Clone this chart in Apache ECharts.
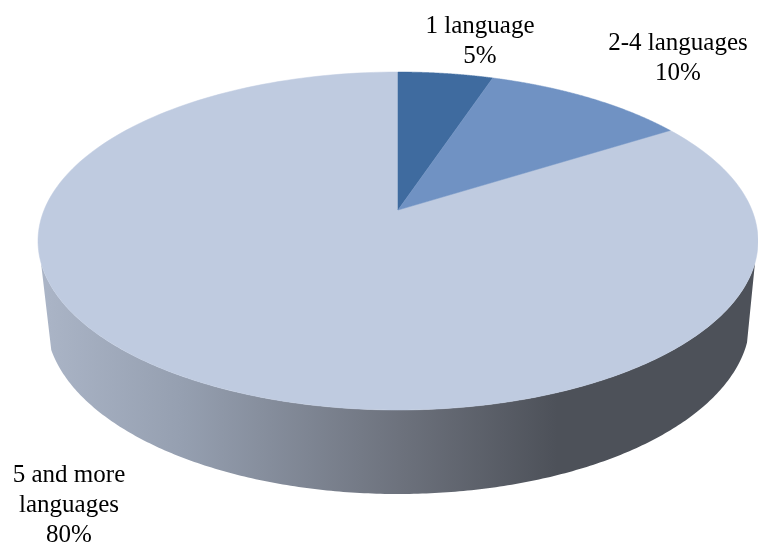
<!DOCTYPE html>
<html>
<head>
<meta charset="utf-8">
<style>html,body{margin:0;padding:0;background:#fff}#c{width:758px;height:543px}</style>
<script src="https://cdn.jsdelivr.net/npm/echarts@6/dist/echarts.min.js"></script>
</head>
<body>
<div id="c"></div>
<script>
const categories = ['1 language', '2-4 languages', '5 and more\nlanguages'];
const shares = [5, 10, 80];
const sliceColors = ['#3f6b9f', '#7092c3', '#bfcbe0'];

const top3d = {cx: 398, cy: 241, rx: 360, ry: 169, apexY: 210};
const base3d = {cx: 398, cy: 320, rx: 352, ry: 174};
const squeeze = 0.84;
const labelAt = [[480, 41], [678, 58], [69, 505]];
const STEPS = 240;

function skew(a) { return Math.atan2(squeeze * Math.sin(a), Math.cos(a)); }
function onEllipse(e, t) { return [e.cx + e.rx * Math.sin(t), e.cy - e.ry * Math.cos(t)]; }
function norm(t) { return t < 0 ? t + 2 * Math.PI : t; }

function sliceBounds(i) {
  let before = 0;
  for (let k = 0; k < i; k++) before += shares[k];
  const start = norm(skew(before / 100 * 2 * Math.PI));
  const end = i === shares.length - 1 ? 2 * Math.PI : norm(skew((before + shares[i]) / 100 * 2 * Math.PI));
  return [start, end];
}

function wallElement() {
  const pts = [];
  const topLimit = Math.PI / 2 + 0.13;
  const baseRight = Math.PI / 2 + 0.13;
  const baseLeft = Math.PI / 2 + 0.173;
  for (let j = 0; j <= STEPS; j++) {
    pts.push(onEllipse(top3d, topLimit + (2 * Math.PI - 2 * topLimit) * j / STEPS));
  }
  const baseFrom = 2 * Math.PI - baseLeft;
  for (let j = 0; j <= STEPS; j++) {
    pts.push(onEllipse(base3d, baseFrom + (baseRight - baseFrom) * j / STEPS));
  }
  return {
    type: 'polygon', z2: 0, silent: true,
    shape: {points: pts},
    style: {
      fill: new echarts.graphic.LinearGradient(40, 0, 758, 0, [
        {offset: 0, color: '#abb5c7'},
        {offset: 0.2, color: '#959fb0'},
        {offset: 0.5, color: '#6d727d'},
        {offset: 0.72, color: '#4d5159'},
        {offset: 1, color: '#4d5159'}
      ], true)
    }
  };
}

function renderItem(params, api) {
  const i = params.dataIndex;
  const [start, end] = sliceBounds(i);
  const pts = [[top3d.cx, top3d.apexY]];
  for (let j = 0; j <= STEPS; j++) pts.push(onEllipse(top3d, start + (end - start) * j / STEPS));
  const children = [{
    type: 'polygon', z2: i === shares.length - 1 ? 1 : 2,
    shape: {points: pts},
    style: {fill: sliceColors[i], stroke: sliceColors[i], lineWidth: 0.5}
  }, {
    type: 'text', z2: 3,
    style: {
      x: labelAt[i][0], y: labelAt[i][1],
      text: categories[i] + '\n' + api.value(0) + '%',
      fill: '#000', align: 'center', verticalAlign: 'middle',
      font: '25px "Liberation Serif"', lineHeight: 30
    }
  }];
  if (i === shares.length - 1) children.unshift(wallElement());
  return {type: 'group', children};
}

const chart = echarts.init(document.getElementById('c'), null, {renderer: 'canvas'});
chart.setOption({
  animation: false,
  backgroundColor: '#fff',
  series: [{
    type: 'custom',
    coordinateSystem: 'none',
    renderItem,
    data: shares.map((v, i) => ({name: categories[i], value: [v]}))
  }]
});
</script>
</body>
</html>
